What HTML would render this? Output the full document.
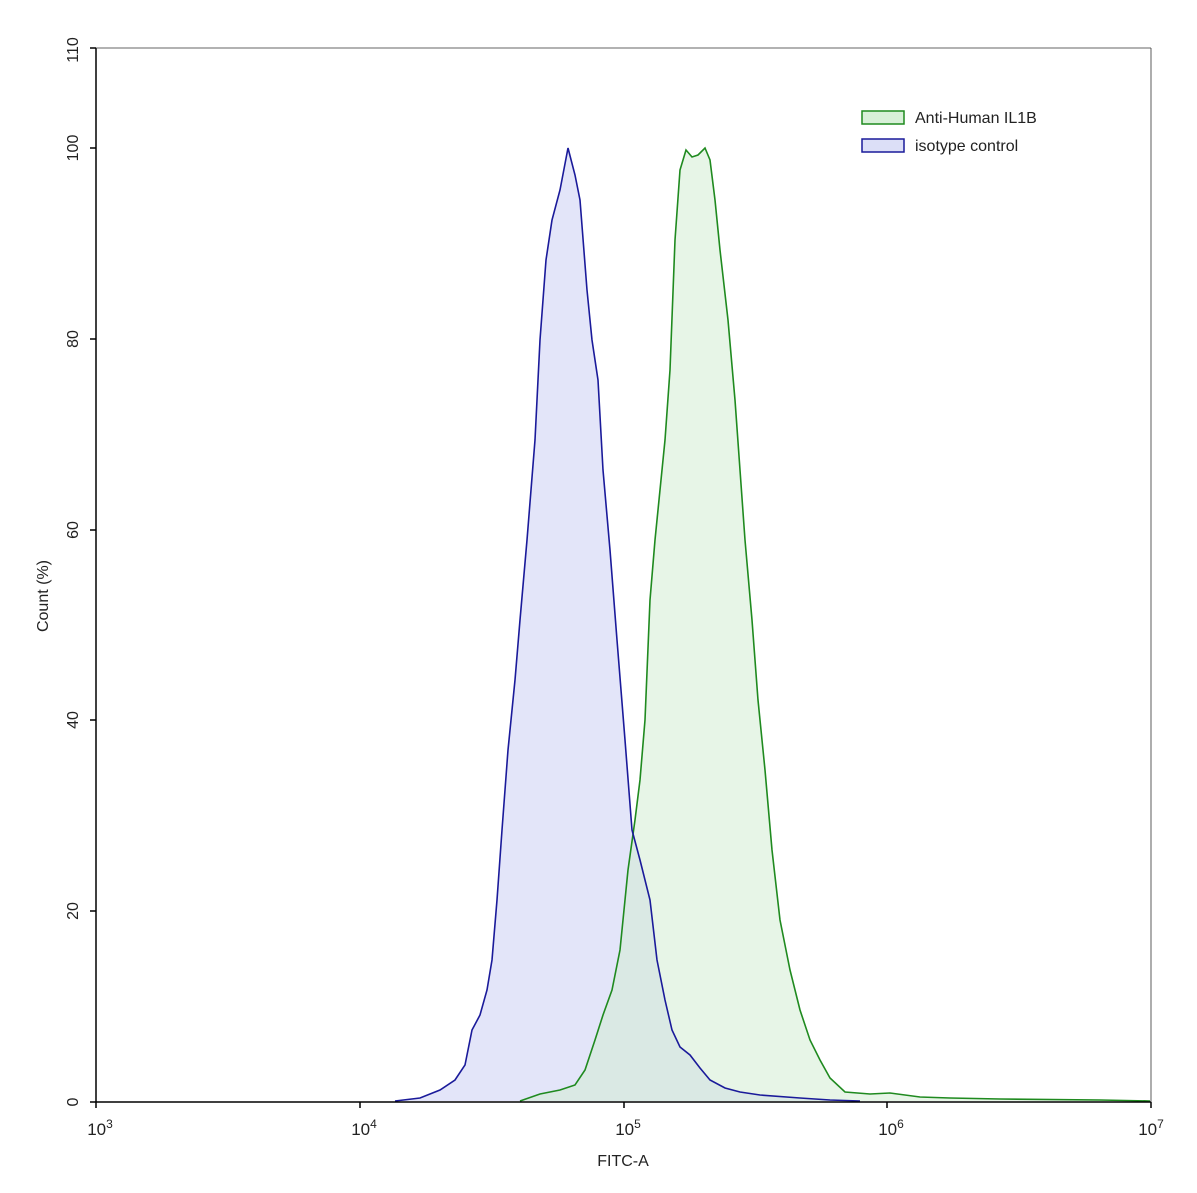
<!DOCTYPE html>
<html><head><meta charset="utf-8"><style>body{margin:0;background:#fff}svg{display:block}text{font-family:"Liberation Sans",sans-serif;fill:#222}</style></head><body>
<svg width="1197" height="1193" viewBox="0 0 1197 1193">
<rect width="1197" height="1193" fill="#fff"/>
<defs>
<path id="b" d="M395,1101 L420,1098 L440,1090 L455,1080 L465,1065 L472,1030 L480,1015 L487,990 L492,960 L497,900 L502,830 L508,750 L515,680 L520,620 L527,540 L535,440 L540,340 L546,260 L552,220 L560,190 L568,148 L575,175 L580,200 L587,290 L592,340 L598,380 L603,470 L610,550 L617,640 L625,740 L632,830 L640,860 L650,900 L657,960 L665,1000 L672,1030 L680,1047 L690,1055 L700,1068 L710,1080 L725,1088 L740,1092 L760,1095 L800,1098 L830,1100 L860,1101"/>
<path id="g" d="M520,1101 L540,1094 L560,1090 L575,1085 L585,1070 L595,1040 L603,1015 L612,990 L620,950 L628,870 L635,820 L640,780 L645,720 L650,600 L655,540 L660,490 L665,440 L670,370 L675,240 L680,170 L686,150 L692,157 L698,155 L705,148 L710,160 L715,200 L720,250 L728,320 L735,400 L740,470 L745,540 L752,620 L758,700 L765,770 L772,850 L780,920 L790,970 L800,1010 L810,1040 L820,1060 L830,1078 L845,1092 L870,1094 L890,1093 L920,1097 L950,1098 L1000,1099 L1100,1100 L1150,1101"/>
</defs>
<use href="#b" fill="#dcdff7" fill-opacity="0.8"/>
<use href="#g" fill="#d4ecd4" fill-opacity="0.55"/>
<use href="#g" fill="none" stroke="#1f8a1f" stroke-width="1.6"/>
<use href="#b" fill="none" stroke="#1a1a9a" stroke-width="1.6"/>
<g stroke="#000" stroke-width="1.5" fill="none">
<line x1="96" y1="48" x2="96" y2="1102"/><line x1="96" y1="1102" x2="1151" y2="1102"/>
<line x1="96" y1="48" x2="1151" y2="48" stroke="#333" stroke-width="0.8"/><line x1="1151" y1="48" x2="1151" y2="1102" stroke="#333" stroke-width="0.8"/>
<line x1="90" y1="1102" x2="96" y2="1102"/><line x1="90" y1="911" x2="96" y2="911"/><line x1="90" y1="720" x2="96" y2="720"/><line x1="90" y1="530" x2="96" y2="530"/><line x1="90" y1="339" x2="96" y2="339"/><line x1="90" y1="148" x2="96" y2="148"/><line x1="90" y1="48" x2="96" y2="48"/>
<line x1="96" y1="1102" x2="96" y2="1108"/><line x1="360" y1="1102" x2="360" y2="1108"/><line x1="624" y1="1102" x2="624" y2="1108"/><line x1="887" y1="1102" x2="887" y2="1108"/><line x1="1151" y1="1102" x2="1151" y2="1108"/>
</g>
<g font-size="16" text-anchor="middle">
<text transform="translate(78,1102) rotate(-90)">0</text>
<text transform="translate(78,911) rotate(-90)">20</text>
<text transform="translate(78,720) rotate(-90)">40</text>
<text transform="translate(78,530) rotate(-90)">60</text>
<text transform="translate(78,339) rotate(-90)">80</text>
<text transform="translate(78,148) rotate(-90)">100</text>
<text transform="translate(78,50) rotate(-90)">110</text>
<text transform="translate(48,596) rotate(-90)" font-size="16">Count  (%)</text>
<text x="100" y="1135" font-size="17">10<tspan dy="-7" font-size="12">3</tspan></text>
<text x="364" y="1135" font-size="17">10<tspan dy="-7" font-size="12">4</tspan></text>
<text x="628" y="1135" font-size="17">10<tspan dy="-7" font-size="12">5</tspan></text>
<text x="891" y="1135" font-size="17">10<tspan dy="-7" font-size="12">6</tspan></text>
<text x="1151" y="1135" font-size="17">10<tspan dy="-7" font-size="12">7</tspan></text>
<text x="623" y="1166" font-size="16">FITC-A</text>
</g>
<rect x="862" y="111" width="42" height="13" fill="#d8f0d8" stroke="#1f8a1f" stroke-width="1.5"/>
<rect x="862" y="139" width="42" height="13" fill="#dcdff7" stroke="#1a1a9a" stroke-width="1.5"/>
<text x="915" y="123" font-size="16">Anti-Human IL1B</text>
<text x="915" y="151" font-size="16">isotype control</text>
</svg>
</body></html>
